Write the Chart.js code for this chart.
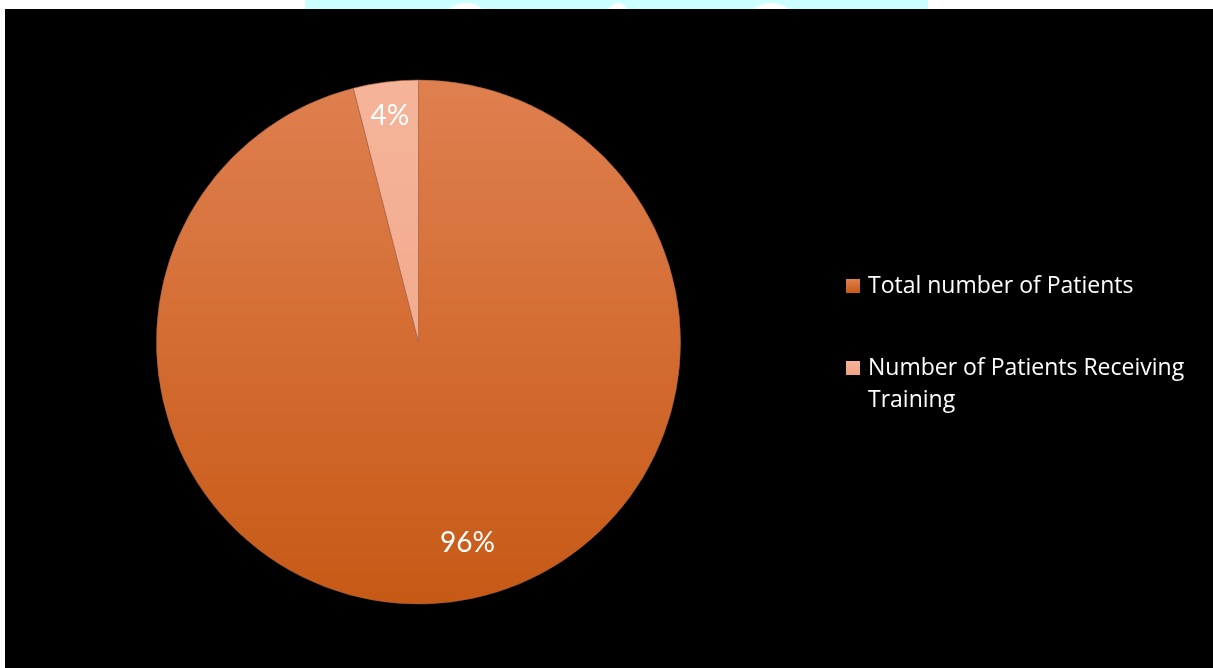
<!DOCTYPE html>
<html>
<head>
<meta charset="utf-8">
<script src="https://cdn.jsdelivr.net/npm/chart.js@4"></script>
<style>
  html, body { margin: 0; padding: 0; background: #ffffff; }
  #wrap { width: 1213px; height: 668px; position: relative; }
  canvas { display: block; }
</style>
</head>
<body>
<div id="wrap"><canvas id="c" width="1213" height="668"></canvas></div>
<script>
// Share of patients (percent)
const categories = ['Total number of Patients', 'Number of Patients Receiving Training'];
const shares = [96, 4];
const shareLabels = ['96%', '4%'];

// Slice fills: vertical gradient from top colour to bottom colour
const sliceTop = ['#DF8050', '#F5B49A'];
const sliceBottom = ['#C75915', '#EFA283'];

const LABEL_FONT = 'Lato, "Open Sans", "Liberation Sans", sans-serif';
const LEGEND_FONT = '"Open Sans", Lato, "Liberation Sans", sans-serif';

// Page backdrop: white page, cyan strip at the top edge, black panel behind the chart
const backdrop = {
  id: 'backdrop',
  beforeDraw(chart) {
    const ctx = chart.ctx;
    ctx.save();
    ctx.fillStyle = '#ffffff';
    ctx.fillRect(0, 0, chart.width, chart.height);
    ctx.fillStyle = '#ccffff';
    ctx.fillRect(305, 0, 623, 10);
    ctx.fillStyle = '#ffffff';
    [[466, 18], [618, 10], [771, 19]].forEach(([cx, rx]) => {
      ctx.beginPath();
      ctx.ellipse(cx, 14, rx, 11, 0, Math.PI, 2 * Math.PI);
      ctx.fill();
    });
    ctx.fillStyle = '#000000';
    ctx.fillRect(5, 9, chart.width - 5, chart.height - 9);
    ctx.restore();
  }
};

// Percentage labels placed inside each slice
const sliceLabels = {
  id: 'sliceLabels',
  afterDatasetsDraw(chart, args, opts) {
    const ctx = chart.ctx;
    const meta = chart.getDatasetMeta(0);
    ctx.save();
    ctx.fillStyle = '#ffffff';
    ctx.font = opts.font;
    ctx.textAlign = 'center';
    ctx.textBaseline = 'middle';
    meta.data.forEach((arc, i) => {
      const p = arc.getProps(['x', 'y', 'startAngle', 'endAngle', 'outerRadius'], true);
      const mid = (p.startAngle + p.endAngle) / 2 + opts.angleShift[i];
      const r = p.outerRadius * opts.radial[i];
      ctx.fillText(shareLabels[i], p.x + Math.cos(mid) * r, p.y + Math.sin(mid) * r);
    });
    ctx.restore();
  }
};

// Legend on the right with word wrapping
const sideLegend = {
  id: 'sideLegend',
  afterDraw(chart, args, opts) {
    const ctx = chart.ctx;
    ctx.save();
    ctx.font = opts.font;
    ctx.textBaseline = 'alphabetic';
    ctx.textAlign = 'left';
    let y = opts.top;
    chart.data.labels.forEach((label, i) => {
      const words = label.split(' ');
      const lines = [];
      let line = '';
      words.forEach(w => {
        const test = line ? line + ' ' + w : w;
        if (ctx.measureText(test).width > opts.maxWidth && line) {
          lines.push(line);
          line = w;
        } else {
          line = test;
        }
      });
      if (line) lines.push(line);

      const g = ctx.createLinearGradient(0, y - opts.box, 0, y);
      g.addColorStop(0, sliceTop[i]);
      g.addColorStop(1, sliceBottom[i]);
      ctx.fillStyle = g;
      ctx.fillRect(opts.x, y - opts.box, opts.box, opts.box);

      ctx.fillStyle = '#ffffff';
      lines.forEach((ln, k) => {
        ctx.fillText(ln, opts.x + opts.box + opts.gap, y + k * opts.lineHeight);
      });
      y += (lines.length - 1) * opts.lineHeight + opts.itemGap;
    });
    ctx.restore();
  }
};

new Chart(document.getElementById('c'), {
  type: 'pie',
  data: {
    labels: categories,
    datasets: [{
      data: shares,
      backgroundColor(context) {
        const i = context.dataIndex;
        const area = context.chart.chartArea;
        if (!area) return sliceTop[i];
        const g = context.chart.ctx.createLinearGradient(0, area.top, 0, area.bottom);
        g.addColorStop(0, sliceTop[i]);
        g.addColorStop(1, sliceBottom[i]);
        return g;
      },
      borderColor: 'rgba(170, 100, 70, 0.6)',
      borderWidth: 1
    }]
  },
  options: {
    responsive: false,
    animation: false,
    events: [],
    layout: { padding: { left: 156, right: 532, top: 79, bottom: 63 } },
    plugins: {
      legend: { display: false },
      tooltip: { enabled: false },
      sliceLabels: {
        font: '28px ' + LABEL_FONT,
        radial: [0.79, 0.871],
        angleShift: [-0.1134, 0]
      },
      sideLegend: {
        font: '23px ' + LEGEND_FONT,
        x: 846,
        top: 293,
        box: 14,
        gap: 8,
        lineHeight: 32,
        itemGap: 82,
        maxWidth: 335
      }
    }
  },
  plugins: [backdrop, sliceLabels, sideLegend]
});
</script>
</body>
</html>
